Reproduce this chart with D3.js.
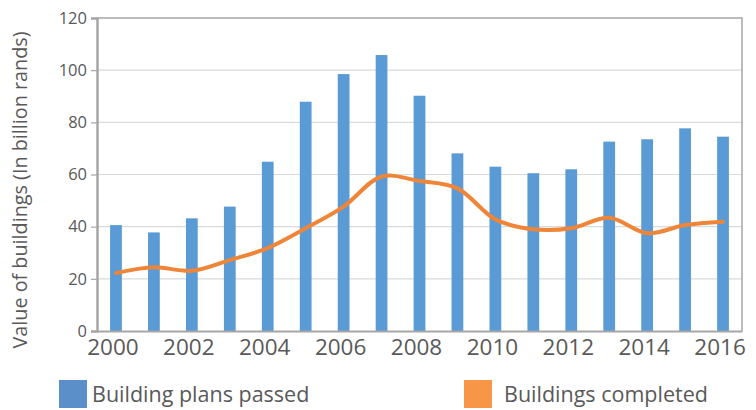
<!DOCTYPE html>
<html>
<head>
<meta charset="utf-8">
<script src="https://cdn.jsdelivr.net/npm/d3@7"></script>
<style>
  html, body { margin: 0; padding: 0; background: #fff; }
  svg { display: block; font-family: "Open Sans", "Noto Sans", sans-serif; }
</style>
</head>
<body>
<svg id="chart" width="756" height="410"></svg>
<script>
// Years on the x axis
const years = [2000, 2001, 2002, 2003, 2004, 2005, 2006, 2007, 2008,
               2009, 2010, 2011, 2012, 2013, 2014, 2015, 2016];
// Value of building plans passed (billion rands)
const plansPassed = [40.6, 37.8, 43.2, 47.7, 64.9, 87.9, 98.5, 105.8, 90.2,
                     68.1, 63.0, 60.5, 62.0, 72.6, 73.5, 77.7, 74.5];
// Value of buildings completed (billion rands)
const buildingsCompleted = [22.2, 24.4, 23.1, 27.2, 31.8, 39.4, 47.7, 59.2, 57.5,
                            54.7, 42.8, 39.0, 39.4, 43.4, 37.5, 40.6, 41.9];
const yTicks = [0, 20, 40, 60, 80, 100, 120];
const xTickYears = [2000, 2002, 2004, 2006, 2008, 2010, 2012, 2014, 2016];
const seriesNames = ["Building plans passed", "Buildings completed"];

const svg = d3.select("#chart");
const plot = { left: 97, right: 742, top: 18, bottom: 331 };

const x = d3.scaleBand()
  .domain(years)
  .range([plot.left, plot.right])
  .paddingInner(0.69)
  .paddingOuter(0.345);

const y = d3.scaleLinear()
  .domain([0, 120])
  .range([plot.bottom, plot.top]);

// Horizontal gridlines
svg.append("g")
  .selectAll("line")
  .data(yTicks.filter(t => t > 0 && t < 120))
  .join("line")
  .attr("x1", plot.left).attr("x2", plot.right)
  .attr("y1", d => y(d)).attr("y2", d => y(d))
  .attr("stroke", "#dadada").attr("stroke-width", 1.2);

// Frame: top and right edges
svg.append("path")
  .attr("d", `M${plot.left},${y(120)}H${plot.right}V${plot.bottom}`)
  .attr("fill", "none").attr("stroke", "#a6a6a6").attr("stroke-width", 1.5);

// Bars
svg.append("g")
  .selectAll("rect")
  .data(years.map((yr, i) => ({ yr, v: plansPassed[i] })))
  .join("rect")
  .attr("x", d => x(d.yr))
  .attr("width", x.bandwidth())
  .attr("y", d => y(d.v))
  .attr("height", d => y(0) - y(d.v))
  .attr("fill", "#5b9bd5");

// Smoothed line for completed buildings
const line = d3.line()
  .x((d, i) => x(years[i]) + x.bandwidth() / 2)
  .y(d => y(d))
  .curve(d3.curveCatmullRom.alpha(0.5));

svg.append("path")
  .datum(buildingsCompleted)
  .attr("d", line)
  .attr("fill", "none")
  .attr("stroke", "#ef8538")
  .attr("stroke-width", 4)
  .attr("stroke-linejoin", "round")
  .attr("stroke-linecap", "round");

// Y axis
const yAxis = d3.axisLeft(y).tickValues(yTicks).tickSize(6).tickPadding(4);
const gy = svg.append("g")
  .attr("transform", `translate(${plot.left},0)`)
  .call(yAxis);
gy.select(".domain").attr("stroke", "#a6a6a6").attr("stroke-width", 2.5);
gy.selectAll(".tick line").attr("stroke", "#a6a6a6").attr("stroke-width", 1.2);
gy.selectAll(".tick text")
  .attr("fill", "#595959")
  .attr("font-size", 16.5)
  .attr("font-family", "Open Sans, sans-serif");

// X axis
const xAxis = d3.axisBottom(x).tickValues(xTickYears).tickSize(0).tickPadding(8);
const gx = svg.append("g")
  .attr("transform", `translate(0,${plot.bottom})`)
  .call(xAxis);
gx.select(".domain").attr("stroke", "#a6a6a6").attr("stroke-width", 2);
gx.selectAll(".tick text")
  .attr("fill", "#595959")
  .attr("font-size", 22.5)
  .attr("font-family", "Open Sans, sans-serif")
  .attr("dx", -3);

// Y axis title
svg.append("text")
  .attr("transform", "translate(27,190) rotate(-90)")
  .attr("text-anchor", "middle")
  .attr("fill", "#595959")
  .attr("font-size", 19.8)
  .text("Value of buildings (In billion rands)");

// Legend
const legend = [
  { name: seriesNames[0], color: "#5b8fc9", x: 59, dx: 33 },
  { name: seriesNames[1], color: "#f79646", x: 464, dx: 40 }
];
const lg = svg.append("g").selectAll("g").data(legend).join("g")
  .attr("transform", d => `translate(${d.x},380)`);
lg.append("rect")
  .attr("width", 28).attr("height", 28)
  .attr("fill", d => d.color);
lg.append("text")
  .attr("x", d => d.dx)
  .attr("y", 22)
  .attr("fill", "#595959")
  .attr("font-size", 21.5)
  .text(d => d.name);
</script>
</body>
</html>
